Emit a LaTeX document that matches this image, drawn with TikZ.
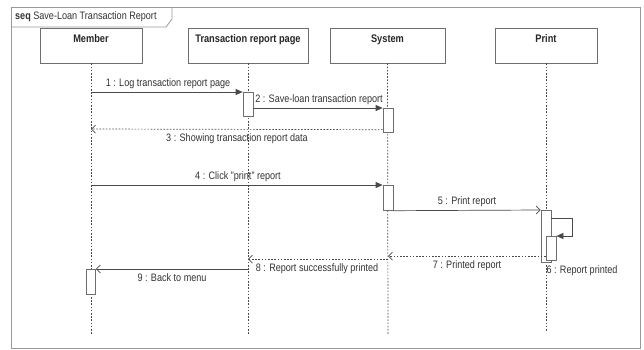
\documentclass[tikz,border=0pt]{standalone}
\usepackage{fontspec}
\setmainfont{Liberation Sans}[FakeStretch=0.84]
\usetikzlibrary{arrows.meta,calc}
\definecolor{framegray}{HTML}{999999}
\definecolor{boxgray}{HTML}{6E6E6E}
\definecolor{linegray}{HTML}{4A4A4A}
\definecolor{txtgray}{HTML}{333333}
\tikzset{
  headbox/.style={draw=boxgray, line width=0.7pt, rectangle, inner sep=0pt, fill=white},
  headlbl/.style={font=\fontsize{11}{12}\selectfont\bfseries, text=black!85, inner sep=0pt, anchor=north},
  life/.style={draw=linegray, line width=0.7pt, dash pattern=on 1.6pt off 1.6pt},
  act/.style={draw=boxgray, line width=0.7pt, fill=white, rectangle, inner sep=0pt, minimum width=10pt, anchor=north},
  sync/.style={draw=linegray, line width=0.7pt, -{Triangle[length=7pt,width=6pt]}},
  reply/.style={draw=linegray, line width=0.7pt, -{Straight Barb[length=4pt,width=8pt]}},
  dreply/.style={reply, dash pattern=on 1.6pt off 1.6pt},
  msg/.style={font=\fontsize{10.8}{12}\selectfont, text=txtgray, inner sep=1pt}
}
\begin{document}
\begin{tikzpicture}[x=1pt,y=-1pt]
\useasboundingbox (0,0) rectangle (644,349);
\fill[white] (0,0) rectangle (644,349);

% outer sequence frame with its name tab
\draw[framegray, line width=0.8pt] (11,7) rectangle (640,348);
\draw[framegray, line width=0.8pt] (11,27) -- (166,27) -- (172,19) -- (172,7);
\node[anchor=west, inner sep=0pt, text=txtgray, font=\fontsize{10.8}{12}\selectfont] (title) at (15,17)
  {{\bfseries seq}\ Save-Loan Transaction Report};

% lifeline heads
\node[headbox, minimum width=102pt, minimum height=35pt] (hm) at (91,45.5) {};
\node[headbox, minimum width=120pt, minimum height=35pt] (ht) at (248,45.5) {};
\node[headbox, minimum width=115pt, minimum height=35pt] (hs) at (387.5,45.5) {};
\node[headbox, minimum width=102pt, minimum height=35pt] (hp) at (546,45.5) {};
\node[headlbl] (lm) at ($(hm.north)+(0,7)$) {Member};
\node[headlbl] (lt) at ($(ht.north)+(0,7)$) {Transaction report page};
\node[headlbl] (ls) at ($(hs.north)+(0,7)$) {System};
\node[headlbl] (lp) at ($(hp.north)+(0,7)$) {Print};

% lifeline ends
\coordinate (em) at (91,335);
\coordinate (et) at (248,335);
\coordinate (es) at (388,335);
\coordinate (ep) at (546,331);
\draw[life] (hm.south) -- (em);
\draw[life] (ht.south) -- (et);
\draw[life] (hs.south) -- (es);
\draw[life] (hp.south) -- (ep);

% activation bars
\node[act, minimum height=24pt] (a1) at (248,92) {};
\node[act, minimum height=24pt] (a2) at (388,108) {};
\node[act, minimum height=25pt] (a4) at (388,185) {};
\node[act, minimum height=52pt] (a5) at (546,210) {};
\node[act, minimum height=24pt] (a6) at (551,236) {};
\node[act, minimum height=25pt, minimum width=9pt] (a9) at (91,269) {};

% points on lifelines where messages start or end
\coordinate (m1) at (91,92);
\coordinate (m4) at (91,185);
\coordinate (s8) at (388,259);
\coordinate (t8) at (248,259);
\coordinate (t9) at (248,269);
\coordinate (s7) at (388,256);
\coordinate (p6) at (572,218);

% 1
\draw[sync] (m1) -- (a1.north west);
\node[msg, anchor=south] (l1) at (168,90) {1 : Log transaction report page};
% 2
\draw[sync] ($(a1.north east)+(0,16)$) -- (a2.north west);
\node[msg, anchor=south] (l2) at (319,106) {2 : Save-loan transaction report};
% 3
\draw[dreply] ($(a2.south west)+(0,-3)$) -- (m1 |- 0,129);
\node[msg, anchor=north] (l3) at (237,132) {3 : Showing transaction report data};
% 4
\draw[sync] (m4) -- (a4.north west);
\node[msg, anchor=south] (l4) at (238,183) {4 : Click "print" report};
% 5
\draw[reply] (a4.south east) -- (a5.north west);
\node[msg, anchor=south] (l5) at (467,208) {5 : Print report};
% 6 (self call)
\draw[sync] ($(a5.north east)+(0,8)$) -- (p6) -- (p6 |- a6.north) -- (a6.north east);
\node[msg, anchor=north] (l6) at (582,264) {6 : Report printed};
% 7
\draw[dreply] (a6.west |- s7) -- (s7);
\node[msg, anchor=north] (l7) at (467,259) {7 : Printed report};
% 8
\draw[dreply] (s8) -- (t8);
\node[msg, anchor=north] (l8) at (317,262) {8 : Report successfully printed};
% 9
\draw[reply] (t9) -- (a9.north east);
\node[msg, anchor=north] (l9) at (172,272) {9 : Back to menu};
\end{tikzpicture}
\end{document}
